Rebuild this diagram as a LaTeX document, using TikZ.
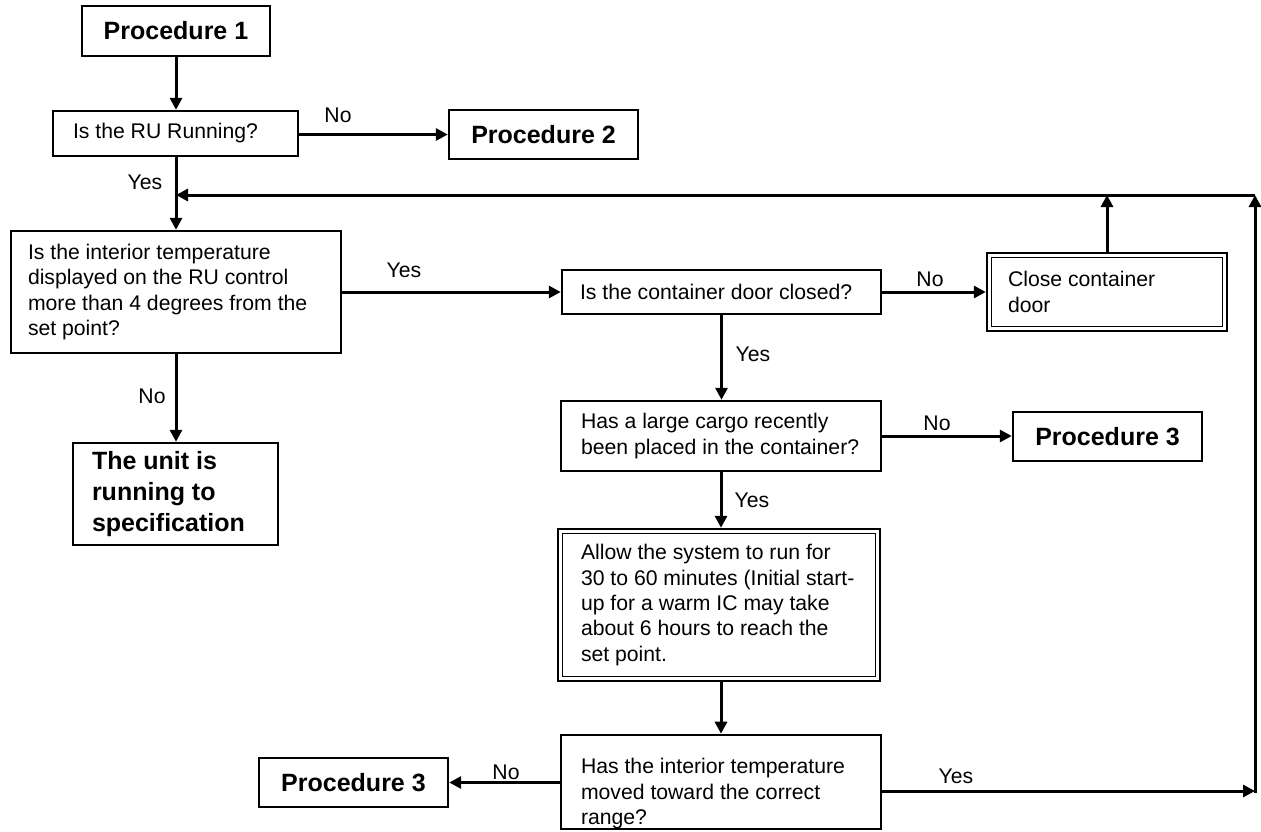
\documentclass[tikz,border=0pt]{standalone}
\usepackage{fontspec}
\setmainfont{Liberation Sans}
\usetikzlibrary{arrows.meta,calc}
\newcommand{\fsreg}{\fontsize{21.2pt}{25.4pt}\selectfont}
\newcommand{\fsbold}{\fontsize{25pt}{31pt}\selectfont\bfseries}
\begin{document}
\begin{tikzpicture}[x=1pt,y=-1pt,
  proc/.style={draw,line width=2.4pt,minimum width=189pt,minimum height=49pt,inner sep=0pt,font=\fsbold},
  tbox/.style={draw,line width=2.4pt,align=flush left,inner ysep=0pt,font=\fsreg},
  lbl/.style={inner sep=0pt,font=\fsreg},
  conn/.style={line width=3pt},
  arr/.style={line width=3pt,-{Triangle[length=12pt,width=12pt]}},
  inner/.style={line width=1.2pt}]
\useasboundingbox (0,0) rectangle (1261,831);

% boxes
\node[proc,minimum width=188pt,minimum height=50pt] (p1) at (176,31) {Procedure 1};
\node[tbox,text width=205pt,inner xsep=20pt,minimum height=45pt] (ru) at (175.5,133.5) {Is the RU Running?};
\node[proc] (p2) at (543.5,134.5) {Procedure 2};
\node[tbox,text width=296pt,inner xsep=17pt,minimum height=122pt] (temp) at (176,292)
  {Is the interior temperature\\displayed on the RU control\\\mbox{more than 4 degrees from the}\\set point?};
\node[tbox,text width=167pt,inner xsep=19pt,minimum height=102pt,font=\fsbold] (unit) at (175.5,494)
  {The unit is\\running to\\specification};
\node[tbox,text width=283pt,inner xsep=18pt,minimum height=44pt] (door) at (721.5,292)
  {\mbox{Is the container door closed?}};
\node[tbox,text width=198pt,inner xsep=21pt,minimum height=78pt] (close) at (1107,292)
  {Close container\\door};
\node[tbox,text width=280pt,inner xsep=20pt,minimum height=70pt] (cargo) at (721,436)
  {\mbox{Has a large cargo recently}\\\mbox{been placed in the container?}};
\node[proc] (p3r) at (1107.5,436.5) {Procedure 3};
\node[tbox,text width=276pt,inner xsep=23pt,minimum height=152pt] (allow) at (719,605)
  {Allow the system to run for\\\mbox{30 to 60 minutes (Initial start-}\\up for a warm IC may take\\about 6 hours to reach the\\set point.};
\node[tbox,text width=280pt,inner xsep=20pt,minimum height=94pt,text height=39pt] (q4) at (721,782)
  {\mbox{Has the interior temperature}\\moved toward the correct\\range?};
\node[proc] (p3l) at (353.5,782.5) {Procedure 3};

% inner lines of double boxes
\draw[inner] ([xshift=5.5pt,yshift=-5.5pt]close.north west) rectangle ([xshift=-5.5pt,yshift=5.5pt]close.south east);
\draw[inner] ([xshift=5.5pt,yshift=-5.5pt]allow.north west) rectangle ([xshift=-5.5pt,yshift=5.5pt]allow.south east);

% coordinates of the feedback loop
\coordinate (fbT) at (1255,195);
\coordinate (fbB) at (1255,791);

% connectors
\draw[arr] (p1.south) -- (p1.south |- ru.north);
\draw[arr] (ru.east |- p2.west) -- (p2.west);
\draw[arr] (p1.south |- ru.south) -- (p1.south |- temp.north);
\draw[arr] (temp.east) -- (door.west |- temp.east);
\draw[arr] (door.east) -- (close.west |- door.east);
\draw[arr] (close.north) -- (close.north |- fbT);
\draw[arr] (door.south) -- (door.south |- cargo.north);
\draw[arr] (cargo.east) -- (p3r.west |- cargo.east);
\draw[arr] (cargo.south) -- (cargo.south |- allow.north);
\draw[arr] (cargo.south |- allow.south) -- (cargo.south |- q4.north);
\draw[arr] (q4.west |- p3l.east) -- (p3l.east);
\draw[arr] (q4.east |- fbB) -- (fbB);
\draw[arr,line cap=rect] (fbB) -- (fbT);
\draw[arr] (fbT) -- (p1.south |- fbT);
\draw[arr] (temp.south) -- (temp.south |- unit.north);

% labels
\node[lbl] (lNo1) at (338,115) {No};
\node[lbl] (lYes1) at (145,182) {Yes};
\node[lbl] (lYes2) at (404,270) {Yes};
\node[lbl] (lNo2) at (930,279) {No};
\node[lbl] (lYes3) at (753,354) {Yes};
\node[lbl] (lNo3) at (937,423) {No};
\node[lbl] (lYes4) at (752,500) {Yes};
\node[lbl] (lNo4) at (506,772) {No};
\node[lbl] (lYes5) at (956,776) {Yes};
\node[lbl] (lNo5) at (152,396) {No};
\end{tikzpicture}
\end{document}
